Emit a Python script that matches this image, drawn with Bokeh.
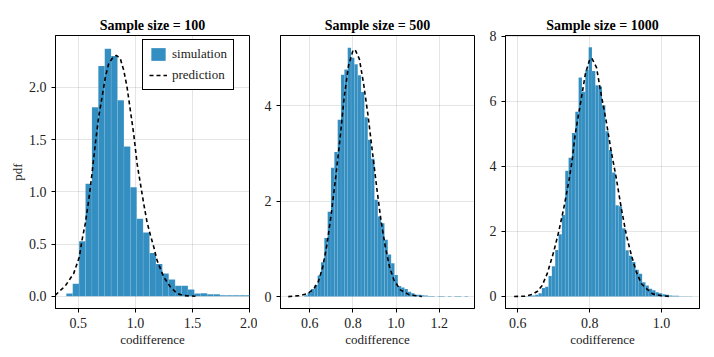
import numpy as np
from bokeh.plotting import figure
from bokeh.layouts import row
from bokeh.models import (Range1d, FixedTicker, NumeralTickFormatter, Legend, LegendItem)
from bokeh.embed import file_html
from bokeh.resources import INLINE

# ---------------- data ----------------
titles = ["Sample size = 100", "Sample size = 500", "Sample size = 1000"]
x_label = "codifference"
y_label = "pdf"

# panel 1 (n = 100) histogram
h1_start = 0.3947
h1_width = 0.0561
h1_pdf = [0.026, 0.12, 0.526, 1.078, 1.81, 2.204, 2.37, 2.30, 1.876, 1.435,
          1.045, 0.743, 0.61, 0.415, 0.31, 0.217, 0.16, 0.10, 0.10, 0.064,
          0.026, 0.03, 0.019, 0.019, 0.01, 0.01, 0.01, 0.01, 0.01]
# panel 1 prediction
c1_x = [0.298, 0.386, 0.459, 0.509, 0.532, 0.561, 0.591, 0.620, 0.649, 0.678,
        0.708, 0.737, 0.766, 0.795, 0.833, 0.868, 0.898, 0.927, 0.956, 0.985,
        1.015, 1.044, 1.073, 1.102, 1.132, 1.161, 1.190, 1.219, 1.248, 1.307,
        1.366, 1.424, 1.526]
c1_y = [0.01, 0.10, 0.217, 0.376, 0.536, 0.695, 0.919, 1.174, 1.461, 1.716,
        1.907, 2.099, 2.227, 2.275, 2.306, 2.275, 2.163, 2.003, 1.78, 1.557,
        1.27, 1.078, 0.887, 0.711, 0.584, 0.472, 0.344, 0.265, 0.185, 0.089,
        0.026, 0.007, 0.0]

# panel 2 (n = 500) histogram
h2_start = 0.5743
h2_width = 0.0155
h2_pdf = [0.03, 0.08, 0.16, 0.245, 0.44, 0.72, 1.23, 1.78, 2.70, 3.03, 3.71, 4.65, 4.76,
          5.22, 5.01, 4.87, 4.64, 4.29, 3.76, 3.29, 2.89, 2.03, 1.68, 1.54, 1.19, 0.88,
          0.70, 0.45, 0.22, 0.19, 0.16, 0.10, 0.07, 0.04, 0.04, 0.03, 0.02, 0.01, 0.01,
          0.0, 0.01, 0.01, 0.0, 0.01, 0.0, 0.01, 0.01, 0.0, 0.01]
c2_x = [0.50, 0.55, 0.59, 0.62, 0.64, 0.66, 0.68, 0.70, 0.72, 0.74, 0.76, 0.78, 0.80,
        0.81, 0.83, 0.85, 0.87, 0.89, 0.91, 0.93, 0.95, 0.97, 0.99, 1.02, 1.06, 1.12]
c2_y = [0.0, 0.02, 0.06, 0.17, 0.32, 0.62, 1.1, 1.75, 2.5, 3.3, 4.2, 4.85, 5.16,
        5.18, 4.98, 4.45, 3.8, 3.05, 2.3, 1.6, 1.05, 0.62, 0.35, 0.14, 0.04, 0.0]

# panel 3 (n = 1000) histogram
h3_start = 0.6205
h3_width = 0.0093
h3_pdf = [0.01, 0.02, 0.03, 0.05, 0.10, 0.26, 0.30, 0.63, 0.93, 1.43, 1.91, 2.50, 3.86,
          4.26, 5.02, 5.68, 6.73, 6.29, 6.96,
          7.66, 6.93, 6.49, 6.45, 5.88, 5.08, 4.50, 3.81, 2.80, 2.77, 2.1, 1.42, 1.25,
          1.06, 0.82, 0.70, 0.44, 0.34, 0.24, 0.19, 0.13, 0.10, 0.07, 0.05, 0.03, 0.02,
          0.02, 0.01, 0.01, 0.01, 0.01]
c3_x = [0.59, 0.62, 0.64, 0.655, 0.668, 0.682, 0.70, 0.714, 0.728, 0.742, 0.751, 0.76,
        0.774, 0.788, 0.80, 0.806, 0.819, 0.832, 0.846, 0.86, 0.874, 0.888, 0.902,
        0.916, 0.93, 0.944, 0.958, 0.975, 1.0, 1.025]
c3_y = [0.0, 0.01, 0.06, 0.16, 0.34, 0.70, 1.37, 1.99, 2.71, 3.53, 4.15, 5.0, 5.9,
        6.83, 7.28, 7.32, 7.04, 6.21, 5.39, 4.46, 3.64, 2.71, 1.89, 1.27, 0.75, 0.39,
        0.24, 0.08, 0.02, 0.0]

x_ticks = [[0.5, 1.0, 1.5, 2.0], [0.6, 0.8, 1.0, 1.2], [0.6, 0.8, 1.0]]
y_ticks = [[0.0, 0.5, 1.0, 1.5, 2.0], [0, 2, 4], [0, 2, 4, 6, 8]]
x_fmt = ["0.0", "0.0", "0.0"]
y_fmt = ["0.0", "0", "0"]
x_ranges = [(0.3, 2.0), (0.464, 1.364), (0.566, 1.1055)]
y_ranges = [(-0.117, 2.497), (-0.25, 5.475), (-0.37, 8.02)]

legend_labels = ["simulation", "prediction"]

# ---------------- styling ----------------
FONT = "Liberation Serif"
BAR = "#338EC1"
borders = [(55, 8), (23, 8), (23, 7)]

hists = [(h1_start, h1_width, h1_pdf), (h2_start, h2_width, h2_pdf), (h3_start, h3_width, h3_pdf)]
curves = [(c1_x, c1_y), (c2_x, c2_y), (c3_x, c3_y)]

figs = []
for i in range(3):
    bl, br = borders[i]
    p = figure(frame_width=194, frame_height=273, output_backend="svg",
               toolbar_location=None, title=titles[i],
               x_range=Range1d(*x_ranges[i]), y_range=Range1d(*y_ranges[i]),
               min_border_left=bl, min_border_right=br,
               min_border_top=35, min_border_bottom=40)
    p.background_fill_color = "white"
    p.border_fill_color = "white"
    p.outline_line_color = "black"
    p.outline_line_width = 1
    p.outline_line_alpha = 1

    p.title.align = "center"
    p.title.text_font = FONT
    p.title.text_font_size = "14px"
    p.title.text_font_style = "bold"
    p.title.text_color = "black"
    p.title.standoff = 5

    for ax in (p.xaxis[0], p.yaxis[0]):
        ax.axis_line_color = "black"
        ax.major_tick_line_color = "black"
        ax.major_tick_out = 4
        ax.major_tick_in = 0
        ax.minor_tick_line_color = None
        ax.major_label_text_font = FONT
        ax.major_label_text_font_size = "14px"
        ax.major_label_text_color = "#222222"
        ax.major_label_standoff = 5
        ax.axis_label_text_font = FONT
        ax.axis_label_text_font_size = "13px"
        ax.axis_label_text_font_style = "normal"
        ax.axis_label_text_color = "#222222"
        ax.axis_label_standoff = 1
    p.xaxis[0].ticker = FixedTicker(ticks=x_ticks[i])
    p.yaxis[0].ticker = FixedTicker(ticks=y_ticks[i])
    p.xaxis[0].formatter = NumeralTickFormatter(format=x_fmt[i])
    p.yaxis[0].formatter = NumeralTickFormatter(format=y_fmt[i])
    p.xaxis[0].axis_label = x_label
    if i == 0:
        p.yaxis[0].axis_label = y_label

    p.grid.grid_line_color = "black"
    p.grid.grid_line_alpha = 0.1
    p.grid.grid_line_width = 1
    p.xgrid.ticker = FixedTicker(ticks=x_ticks[i])
    p.ygrid.ticker = FixedTicker(ticks=y_ticks[i])

    start, width, pdf = hists[i]
    edges = start + width * np.arange(len(pdf) + 1)
    bars = p.quad(left=edges[:-1], right=edges[1:], top=pdf, bottom=0,
                  fill_color=BAR, fill_alpha=1.0,
                  line_color="white", line_width=0.4, line_alpha=0.2)
    cx, cy = curves[i]
    ln = p.line(cx, cy, line_color="black", line_width=1.6, line_dash="4 3")

    if i == 0:
        leg = Legend(items=[LegendItem(label=legend_labels[0], renderers=[bars]),
                            LegendItem(label=legend_labels[1], renderers=[ln])],
                     location=(87, 218))
        leg.border_line_color = "black"
        leg.border_line_width = 1
        leg.border_line_alpha = 1
        leg.background_fill_color = "white"
        leg.background_fill_alpha = 1
        leg.label_text_font = FONT
        leg.label_text_font_size = "13px"
        leg.label_text_color = "#222222"
        leg.glyph_width = 18
        leg.glyph_height = 16
        leg.label_height = 16
        leg.label_standoff = 5
        leg.spacing = 5
        leg.padding = 6
        leg.margin = 0
        p.add_layout(leg, "center")
    figs.append(p)

layout = row(*figs)
open("out.html", "w").write(file_html(layout, INLINE))
